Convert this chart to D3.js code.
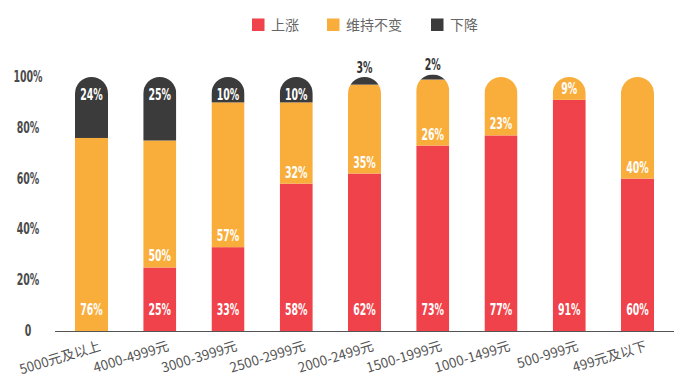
<!DOCTYPE html>
<html>
<head>
<meta charset="utf-8">
<script src="https://cdn.jsdelivr.net/npm/d3@7"></script>
<style>
  body { margin: 0; background: #fff; }
  svg { display: block; }
  .num { font-family: "DejaVu Sans Condensed", "Liberation Sans Narrow", sans-serif; font-weight: bold; }
  .cjk { font-family: "Noto Sans CJK SC", "Noto Sans", sans-serif; }
</style>
</head>
<body>
<svg id="chart" width="680" height="378"></svg>
<script>
// price bands, left to right
var categories = ["5000元及以上", "4000-4999元", "3000-3999元", "2500-2999元", "2000-2499元",
                  "1500-1999元", "1000-1499元", "500-999元", "499元及以下"];
var seriesNames = ["上涨", "维持不变", "下降"];
var rise = [0, 25, 33, 58, 62, 73, 77, 91, 60];
var same = [76, 50, 57, 32, 35, 26, 23, 9, 40];
var fall = [24, 25, 10, 10, 3, 2, 0, 0, 0];
var yTicks = [0, 20, 40, 60, 80, 100];

var colors = ["#f0424a", "#f9ae3c", "#3b3b3b"];

var rows = categories.map(function(c, i){
  return {cat: c, "上涨": rise[i], "维持不变": same[i], "下降": fall[i]};
});

var svg = d3.select("#chart");

var xScale = d3.scaleBand()
  .domain(categories)
  .range([55, 674])
  .paddingInner(0.516)
  .paddingOuter(0.293);

var yScale = d3.scaleLinear()
  .domain([0, 100])
  .range([331, 77]);

var stacked = d3.stack().keys(seriesNames)(rows);
var bw = xScale.bandwidth();
var r = bw / 2;

// rounded-top clip per bar
var defs = svg.append("defs");
rows.forEach(function(d, i){
  var total = d["上涨"] + d["维持不变"] + d["下降"];
  var x0 = xScale(d.cat), x1 = x0 + bw;
  var yt = yScale(total), yb = yScale(0);
  var p = d3.path();
  p.moveTo(x0, yb);
  p.lineTo(x0, yt + r);
  p.arc(x0 + r, yt + r, r, Math.PI, 0);
  p.lineTo(x1, yb);
  p.closePath();
  defs.append("clipPath").attr("id", "clip" + i)
    .append("path").attr("d", p.toString());
});

var barG = svg.append("g");
stacked.forEach(function(layer, k){
  barG.selectAll("rect.s" + k)
    .data(layer)
    .enter().append("rect")
    .attr("class", "s" + k)
    .attr("clip-path", function(d, i){ return "url(#clip" + i + ")"; })
    .attr("x", function(d){ return xScale(d.data.cat); })
    .attr("y", function(d){ return yScale(d[1]); })
    .attr("width", bw)
    .attr("height", function(d){ return yScale(d[0]) - yScale(d[1]); })
    .attr("fill", colors[k]);
});

// value labels
var sx = 0.7;
var labelG = svg.append("g").attr("class", "num").attr("font-size", 15).attr("text-anchor", "middle");
stacked.forEach(function(layer, k){
  layer.forEach(function(d){
    var v = d[1] - d[0];
    if (v <= 0) return;
    var cx = xScale(d.data.cat) + bw / 2;
    var y, fill = "#fff";
    if (k === 2) {
      if (v < 5) { y = yScale(d[1]) - 4; fill = "#333"; }
      else y = yScale(d[1]) + 23;
    } else if (d[0] === 0) {
      y = yScale(0) - 16;
    } else {
      y = yScale(d[0]) - 6;
    }
    labelG.append("text")
      .attr("x", cx).attr("y", y)
      .attr("fill", fill)
      .attr("transform", "translate(" + cx + ",0) scale(" + sx + ",1) translate(" + (-cx) + ",0)")
      .text(v + "%");
  });
});

// y axis labels
svg.append("g").attr("class", "num").attr("font-size", 15).attr("fill", "#4a4a4a")
  .selectAll("text").data(yTicks).enter().append("text")
  .attr("x", 28).attr("y", function(d){ return yScale(d) + 5; })
  .attr("text-anchor", "middle")
  .attr("transform", "translate(28,0) scale(" + sx + ",1) translate(-28,0)")
  .text(function(d){ return d === 0 ? "0" : d + "%"; });

// baseline
svg.append("line")
  .attr("x1", 55).attr("x2", 674)
  .attr("y1", 331.5).attr("y2", 331.5)
  .attr("stroke", "#555").attr("stroke-width", 1);

// x labels
svg.append("g").attr("class", "cjk").attr("font-size", 13.5).attr("fill", "#555")
  .selectAll("text").data(categories).enter().append("text")
  .attr("text-anchor", "end")
  .attr("transform", function(d){
    return "translate(" + (xScale(d) + bw / 2 + 10) + ",350) rotate(-17)";
  })
  .text(function(d){ return d; });

// legend
var legendX = [252, 327, 431];
var lg = svg.append("g").attr("class", "cjk");
seriesNames.forEach(function(name, i){
  lg.append("rect")
    .attr("x", legendX[i]).attr("y", 18.5)
    .attr("width", 12.5).attr("height", 12.5)
    .attr("fill", colors[i]);
  lg.append("text")
    .attr("x", legendX[i] + 19).attr("y", 30)
    .attr("font-size", 14).attr("fill", "#666")
    .text(name);
});
</script>
</body>
</html>
